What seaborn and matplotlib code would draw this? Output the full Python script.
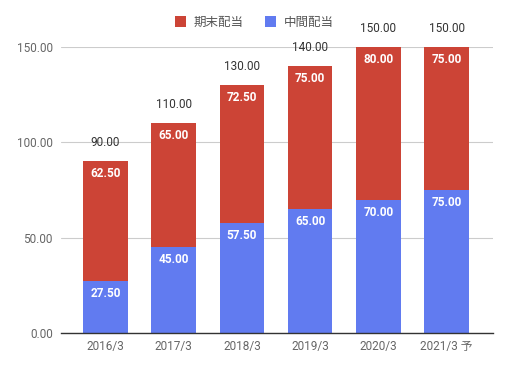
import matplotlib
matplotlib.use("Agg")
import matplotlib.pyplot as plt
import seaborn as sns
import pandas as pd
import numpy as np

categories = ["2016/3", "2017/3", "2018/3", "2019/3", "2020/3", "2021/3 予"]
interim = [27.50, 45.00, 57.50, 65.00, 70.00, 75.00]   # 中間配当
year_end = [62.50, 65.00, 72.50, 75.00, 80.00, 75.00]  # 期末配当
totals = [90.00, 110.00, 130.00, 140.00, 150.00, 150.00]
yticks = [0, 50, 100, 150]

sns.set_theme(style="white")
plt.rcParams['font.family'] = ['Roboto', 'Noto Sans CJK JP', 'DejaVu Sans']

RED = "#cc4436"
BLUE = "#617bf0"

df = pd.DataFrame({"cat": categories, "interim": interim, "year_end": year_end, "total": totals})
df["stack"] = df["interim"] + df["year_end"]

fig = plt.figure(figsize=(5.09, 3.69), dpi=100)
ax = fig.add_axes([0.12, 0.0976, 0.8486, 0.775])

sns.barplot(data=df, x="cat", y="stack", color=RED, width=0.65, ax=ax, saturation=1, label="期末配当", linewidth=0)
sns.barplot(data=df, x="cat", y="interim", color=BLUE, width=0.65, ax=ax, saturation=1, label="中間配当", linewidth=0)

ax.set_ylim(0, 150)
ax.set_xlim(-0.65, 5.68)
ax.set_yticks(yticks)
ax.set_yticklabels([f"{v:.2f}" for v in yticks])
ax.yaxis.grid(True, color="#cccccc", linewidth=0.8)
ax.set_axisbelow(True)
for s in ["top", "right", "left"]:
    ax.spines[s].set_visible(False)
ax.spines["bottom"].set_color("#333333")
ax.spines["bottom"].set_linewidth(1.0)
ax.tick_params(axis="both", length=0, colors="#666666", labelsize=8.5)
ax.tick_params(axis="y", pad=6)
ax.tick_params(axis="x", pad=5)
ax.set_xlabel("")
ax.set_ylabel("")

for i, r in df.iterrows():
    ax.annotate(f"{r['interim']:.2f}", (i, r["interim"]), xytext=(0, -9), textcoords="offset points",
                ha="center", va="center", color="white", fontsize=8.5, fontweight="bold")
    ax.annotate(f"{r['year_end']:.2f}", (i, r["stack"]), xytext=(0, -9), textcoords="offset points",
                ha="center", va="center", color="white", fontsize=8.5, fontweight="bold")
    ax.annotate(f"{r['total']:.2f}", (i, r["total"]), xytext=(0, 13.5), textcoords="offset points",
                ha="center", va="center", color="#333333", fontsize=8.5, annotation_clip=False)

handles, labels = ax.get_legend_handles_labels()
if ax.get_legend() is not None:
    ax.get_legend().remove()
leg = fig.legend(handles, labels, loc="center", bbox_to_anchor=(0.5, 0.94), ncol=2, frameon=False,
                 fontsize=9, handlelength=0.9, handleheight=0.9, columnspacing=1.7, handletextpad=0.6)
for t in leg.get_texts():
    t.set_color("#555555")

fig.savefig("out.png", dpi=100)
